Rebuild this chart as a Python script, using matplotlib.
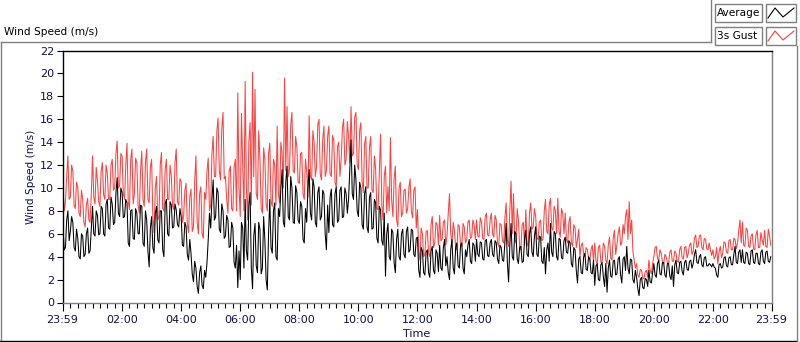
import numpy as np
import matplotlib.pyplot as plt
from matplotlib.patches import Rectangle
from matplotlib.lines import Line2D

# values, one row per hour (00:00 ... 23:55)
# *_a: samples at hh:m0 / hh:m5, *_b: samples 2.5 minutes later
gust_a = [
    10.0, 8.8, 12.8, 9.2, 11.5, 8.2, 10.1, 7.5, 9.0, 6.6, 9.1, 7.0,      # 00
    12.8, 8.6, 10.6, 8.4, 12.2, 9.0, 11.3, 9.0, 12.5, 10.0, 14.1, 10.2,  # 01
    12.8, 9.0, 13.9, 8.1, 13.4, 9.5, 12.2, 7.8, 13.2, 8.4, 13.4, 8.7,    # 02
    12.5, 6.1, 11.0, 7.5, 13.1, 8.0, 12.5, 9.0, 11.0, 8.1, 13.4, 8.5,    # 03
    10.6, 7.5, 10.4, 6.1, 9.9, 6.6, 12.8, 6.0, 10.1, 5.6, 9.0, 12.6,     # 04
    8.5, 14.5, 11.0, 16.1, 10.7, 16.6, 11.0, 7.8, 11.9, 8.0, 12.5, 18.3, # 05
    7.5, 12.0, 19.3, 7.2, 15.7, 20.1, 18.6, 9.0, 12.5, 7.8, 12.5, 8.0,   # 06
    13.9, 8.4, 12.0, 15.4, 8.7, 13.0, 19.6, 17.1, 11.6, 16.6, 11.3, 13.6, # 07
    10.4, 13.1, 9.0, 11.5, 16.3, 10.7, 14.0, 11.9, 16.0, 10.7, 15.4, 11.5, # 08
    15.4, 11.0, 14.2, 10.1, 14.0, 12.5, 16.0, 12.5, 14.5, 17.1, 13.0, 16.6, # 09
    11.6, 15.7, 9.6, 14.5, 10.0, 14.5, 9.6, 11.6, 8.1, 14.7, 7.2, 11.9,  # 10
    10.1, 14.4, 7.5, 11.9, 6.6, 10.5, 7.8, 9.9, 8.2, 10.8, 7.4, 10.1,    # 11
    8.1, 3.7, 6.0, 4.2, 6.3, 4.0, 7.5, 5.2, 6.8, 7.6, 5.5, 7.2,          # 12
    5.8, 9.5, 5.2, 6.3, 4.6, 6.6, 4.9, 6.6, 5.5, 7.2, 5.7, 6.8,          # 13
    7.2, 5.7, 7.0, 5.5, 7.8, 5.8, 7.8, 5.7, 7.2, 4.9, 6.8, 5.2,          # 14
    8.7, 4.9, 10.6, 9.5, 5.2, 7.2, 4.6, 7.0, 8.1, 4.9, 8.7, 6.6,         # 15
    7.5, 5.5, 7.2, 5.5, 9.0, 6.0, 9.1, 6.3, 8.0, 9.1, 5.7, 7.8,          # 16
    7.8, 5.2, 7.5, 4.9, 6.5, 5.5, 4.0, 5.2, 4.0, 4.6, 3.7, 5.0,          # 17
    5.2, 3.4, 5.0, 3.6, 4.9, 3.4, 5.7, 3.7, 6.3, 5.0, 6.6, 5.2,          # 18
    6.0, 8.1, 8.8, 7.2, 3.7, 3.4, 2.2, 2.8, 2.1, 2.8, 3.7, 2.5,          # 19
    4.0, 4.9, 3.7, 4.3, 3.4, 4.0, 3.4, 4.6, 3.6, 4.3, 3.5, 4.9,          # 20
    3.8, 4.9, 4.3, 5.2, 4.5, 5.9, 4.9, 5.9, 4.6, 5.5, 4.6, 4.6,          # 21
    4.6, 4.0, 3.4, 4.9, 4.3, 5.2, 4.3, 5.5, 4.6, 5.5, 5.2, 7.2,          # 22
    7.0, 4.9, 6.3, 4.8, 6.0, 4.6, 6.3, 4.8, 5.5, 6.3, 4.8, 5.8,          # 23
]
gust_b = [
    8.0, 11.0, 9.0, 12.0, 8.5, 10.5, 7.8, 9.8, 7.0, 8.5, 7.2, 9.5,       # 00
    9.2, 11.8, 8.8, 11.5, 9.4, 12.0, 9.0, 12.0, 9.8, 13.0, 10.0, 13.0,   # 01
    9.5, 12.0, 8.8, 12.5, 8.6, 12.6, 8.5, 11.5, 9.0, 12.2, 9.0, 11.8,    # 02
    7.5, 10.0, 7.2, 12.0, 8.2, 11.6, 9.0, 12.0, 8.4, 12.2, 8.8, 10.8,    # 03
    7.0, 9.8, 6.8, 9.2, 6.2, 10.5, 7.0, 9.5, 6.0, 9.6, 11.5, 8.0,        # 04
    13.0, 11.0, 15.0, 11.5, 15.2, 10.8, 9.0, 11.5, 8.2, 11.8, 8.0, 10.0, # 05
    16.5, 8.0, 10.0, 14.0, 8.5, 11.0, 9.5, 15.0, 8.2, 13.5, 8.6, 13.0,   # 06
    8.8, 12.5, 8.5, 9.5, 14.0, 10.0, 11.5, 11.0, 15.5, 11.5, 14.5, 10.5, # 07
    13.0, 9.5, 12.5, 9.2, 11.0, 15.0, 11.0, 15.5, 11.2, 14.2, 11.0, 14.5, # 08
    11.2, 14.6, 10.5, 13.6, 11.0, 15.2, 12.0, 15.8, 12.2, 12.8, 16.2, 12.0, # 09
    15.0, 10.5, 13.8, 10.0, 13.5, 9.8, 12.8, 8.2, 11.5, 8.5, 11.0, 7.8,  # 10
    8.0, 9.0, 10.8, 7.2, 10.0, 7.5, 9.8, 7.8, 10.0, 8.0, 9.8, 6.5,       # 11
    4.5, 6.5, 4.0, 6.2, 4.3, 6.8, 4.8, 7.0, 5.0, 5.4, 7.0, 5.0,          # 12
    7.8, 6.0, 7.0, 4.8, 6.8, 5.0, 6.9, 5.2, 7.0, 5.6, 7.2, 5.5,          # 13
    5.8, 7.4, 5.6, 7.5, 5.9, 7.2, 6.0, 7.6, 5.2, 6.9, 5.4, 7.4,          # 14
    5.5, 8.0, 6.0, 5.5, 8.2, 4.8, 6.8, 5.0, 5.2, 7.8, 6.4, 8.2,          # 15
    5.6, 7.0, 5.4, 8.0, 6.2, 8.5, 6.5, 8.4, 6.0, 6.2, 8.2, 6.0,          # 16
    5.5, 7.0, 5.2, 6.8, 4.8, 6.4, 5.0, 4.2, 4.8, 3.8, 4.6, 3.6,          # 17
    3.6, 4.8, 3.5, 5.2, 3.7, 5.0, 3.9, 5.6, 4.2, 6.0, 5.0, 6.8,          # 18
    7.5, 5.5, 6.0, 4.5, 3.0, 2.4, 2.9, 2.1, 2.7, 2.2, 2.8, 3.4,          # 19
    4.8, 3.8, 4.6, 3.5, 4.2, 3.5, 4.4, 3.6, 4.5, 3.6, 4.6, 3.9,          # 20
    4.8, 3.9, 5.0, 4.2, 5.6, 4.8, 5.8, 4.8, 5.6, 4.7, 5.2, 4.1,          # 21
    3.8, 4.8, 4.4, 3.9, 5.3, 4.4, 5.4, 4.6, 5.6, 4.7, 6.3, 5.2,          # 22
    5.0, 6.5, 4.9, 5.8, 4.7, 5.9, 4.8, 6.1, 5.0, 4.9, 6.4, 5.0,          # 23
]
avg_a = [
    6.5, 4.8, 8.0, 6.2, 7.0, 4.5, 5.6, 3.8, 5.8, 4.2, 6.5, 4.5,          # 00
    8.4, 5.8, 7.6, 6.0, 8.2, 5.8, 9.0, 6.4, 8.6, 7.0, 10.9, 7.5,         # 01
    9.6, 7.5, 8.7, 4.9, 8.1, 5.5, 7.8, 6.0, 8.4, 4.9, 7.2, 3.1,          # 02
    7.5, 4.3, 8.4, 5.2, 8.0, 4.0, 9.0, 5.8, 8.5, 6.6, 8.1, 6.6,          # 03
    7.5, 4.9, 6.6, 3.7, 4.3, 1.8, 3.0, 0.8, 3.2, 1.2, 2.2, 5.5,          # 04
    6.5, 10.7, 7.5, 9.6, 6.1, 8.0, 5.8, 7.2, 4.9, 6.5, 3.0, 1.3,         # 05
    2.0, 6.5, 9.0, 3.7, 9.6, 1.2, 6.9, 2.6, 6.4, 3.0, 5.5, 1.1,          # 06
    9.0, 4.3, 8.7, 3.7, 7.5, 11.6, 6.6, 11.9, 7.2, 10.0, 6.9, 9.6,       # 07
    6.9, 8.4, 5.2, 7.0, 11.6, 7.2, 10.1, 6.6, 10.1, 7.5, 9.5, 4.6,       # 08
    6.1, 9.9, 6.6, 10.1, 7.2, 10.1, 7.5, 9.5, 9.0, 14.2, 9.0, 10.7,      # 09
    7.5, 10.0, 6.4, 10.1, 6.1, 9.6, 6.5, 8.7, 5.2, 8.1, 5.0, 2.3,        # 10
    6.9, 3.7, 6.1, 2.6, 6.4, 3.7, 6.4, 3.9, 6.6, 4.6, 6.3, 4.0,          # 11
    5.7, 2.2, 4.5, 2.4, 4.6, 2.2, 4.9, 2.5, 4.3, 5.0, 2.8, 5.5,          # 12
    4.0, 2.0, 5.5, 2.5, 5.2, 3.0, 5.2, 2.5, 4.0, 5.5, 3.4, 5.0,          # 13
    5.5, 4.0, 5.2, 3.7, 5.5, 4.0, 5.5, 4.0, 5.2, 3.4, 4.8, 3.6,          # 14
    6.9, 1.8, 6.9, 3.7, 6.0, 3.4, 4.9, 3.6, 6.3, 4.0, 6.6, 4.0,          # 15
    6.6, 4.0, 5.7, 3.4, 2.5, 5.2, 6.9, 4.0, 6.0, 3.7, 5.5, 3.8,          # 16
    5.7, 4.3, 5.2, 3.1, 4.6, 1.7, 4.0, 2.5, 4.3, 2.8, 3.8, 2.5,          # 17
    1.5, 3.4, 1.9, 3.5, 1.4, 0.9, 3.7, 2.2, 3.7, 2.5, 4.0, 1.7,          # 18
    4.0, 4.9, 2.5, 3.7, 1.7, 2.2, 0.6, 2.2, 1.2, 2.0, 2.8, 1.7,          # 19
    3.4, 2.2, 3.7, 2.4, 3.5, 2.2, 3.4, 2.0, 1.4, 3.7, 2.5, 3.6,          # 20
    2.4, 3.7, 2.8, 3.7, 3.4, 4.6, 3.4, 4.2, 3.1, 4.0, 3.2, 3.3,          # 21
    3.4, 3.0, 2.2, 3.4, 3.1, 4.0, 3.1, 4.0, 3.3, 4.9, 3.4, 4.6,          # 22
    4.6, 3.4, 4.3, 3.3, 4.6, 3.4, 4.3, 3.3, 4.6, 3.4, 4.5, 3.5,          # 23
]
avg_b = [
    4.6, 7.2, 5.4, 7.5, 4.8, 6.4, 4.0, 6.0, 4.0, 6.0, 4.3, 6.4,          # 00
    6.0, 8.0, 5.9, 8.4, 6.0, 8.6, 6.5, 9.2, 6.8, 9.5, 7.8, 10.0,         # 01
    7.4, 9.0, 5.2, 8.0, 5.6, 8.2, 6.0, 8.5, 5.2, 8.0, 4.5, 6.5,          # 02
    4.8, 7.8, 5.5, 8.0, 4.6, 8.6, 6.0, 8.8, 6.5, 8.6, 6.8, 8.2,          # 03
    5.0, 7.0, 4.2, 5.5, 2.5, 3.6, 1.4, 2.6, 1.5, 2.8, 3.5, 7.8,          # 04
    9.0, 7.2, 10.0, 6.4, 8.6, 5.6, 7.6, 4.8, 7.0, 3.5, 5.0, 4.5,         # 05
    7.0, 3.0, 4.5, 8.5, 3.0, 5.8, 3.2, 7.0, 2.5, 7.5, 2.0, 6.0,          # 06
    4.8, 8.0, 4.0, 8.2, 10.0, 7.0, 10.5, 7.5, 11.0, 7.0, 10.2, 7.2,      # 07
    8.8, 5.5, 8.2, 10.0, 7.8, 10.8, 7.0, 9.6, 7.2, 9.8, 6.0, 8.5,        # 08
    9.2, 6.8, 9.5, 7.0, 9.8, 7.4, 10.0, 7.8, 11.5, 9.5, 12.0, 8.0,       # 09
    10.5, 6.8, 9.5, 6.6, 9.2, 6.4, 9.0, 5.6, 8.4, 5.4, 7.8, 6.0,         # 10
    4.0, 6.4, 3.5, 5.5, 4.0, 6.0, 4.2, 6.2, 4.4, 6.4, 4.2, 5.6,          # 11
    2.8, 4.8, 2.6, 4.4, 2.6, 4.5, 2.8, 4.6, 2.7, 3.0, 4.8, 3.2,          # 12
    2.6, 4.6, 3.0, 4.8, 3.2, 5.0, 3.0, 4.6, 5.0, 3.6, 5.2, 3.6,          # 13
    4.2, 5.3, 3.8, 5.4, 4.1, 5.2, 4.2, 5.4, 3.8, 5.0, 3.7, 5.2,          # 14
    3.5, 5.0, 4.0, 6.2, 3.8, 4.8, 3.5, 5.6, 4.2, 6.0, 4.4, 5.8,          # 15
    4.2, 5.8, 3.6, 4.8, 4.6, 3.6, 4.4, 6.2, 4.0, 5.6, 3.9, 5.4,          # 16
    4.4, 5.4, 3.4, 4.8, 2.8, 3.8, 2.6, 4.0, 2.9, 4.0, 2.6, 3.7,          # 17
    3.2, 2.0, 3.3, 2.2, 3.4, 3.0, 2.3, 3.6, 2.4, 3.8, 2.4, 3.8,          # 18
    2.8, 3.0, 3.8, 2.0, 2.8, 1.2, 2.0, 1.3, 2.1, 1.4, 1.8, 2.6,          # 19
    2.4, 3.4, 2.5, 3.5, 2.4, 3.4, 2.3, 3.2, 3.3, 2.6, 3.5, 2.7,          # 20
    3.5, 2.9, 3.6, 3.0, 4.2, 3.5, 4.0, 3.3, 3.9, 3.2, 3.4, 3.1,          # 21
    3.1, 2.4, 3.3, 3.0, 3.9, 3.2, 3.9, 3.3, 4.2, 3.5, 4.4, 3.5,          # 22
    3.5, 4.4, 3.4, 4.5, 3.5, 4.3, 3.4, 4.4, 3.6, 4.4, 3.6, 4.0,          # 23
]

tick_pos = [-1, 120, 240, 360, 480, 600, 720, 840, 960, 1080, 1200, 1320, 1439]
tick_labels = ['23:59', '02:00', '04:00', '06:00', '08:00', '10:00', '12:00',
               '14:00', '16:00', '18:00', '20:00', '22:00', '23:59']

# merge the two sample sets into one 2.5-minute series
gust = np.column_stack([gust_a, gust_b]).ravel()
average = np.column_stack([avg_a, avg_b]).ravel()
minutes = np.arange(len(gust)) * 2.5

plt.rcParams['font.family'] = ['DejaVu Sans']
fs = 7.6
text_col = '#10104a'
red = '#ff4040'
grey = '#808080'

fig = plt.figure(figsize=(8, 3.42), dpi=100)

# panel decorations in pixel coordinates
deco = fig.add_axes([0, 0, 1, 1], zorder=0)
deco.set_xlim(0, 800)
deco.set_ylim(342, 0)
deco.axis('off')
deco.add_line(Line2D([0.5, 711], [42, 42], color=grey, lw=1))
deco.add_line(Line2D([711, 711], [0, 42], color=grey, lw=1))
deco.add_line(Line2D([0.5, 0.5], [42, 341], color=grey, lw=1))
deco.add_line(Line2D([0, 797], [340.5, 340.5], color='black', lw=1))
deco.add_line(Line2D([797, 797], [46, 341], color=grey, lw=1))
deco.text(4, 32, 'Wind Speed (m/s)', fontsize=fs, color='black', va='center', ha='left')

# legend boxes
for y0, label, col in [(4, 'Average', 'black'), (27, '3s Gust', red)]:
    deco.add_patch(Rectangle((715, y0), 47, 17.5, fc='white', ec=grey, lw=1))
    deco.text(717, y0 + 9, label, fontsize=fs, color='black', va='center', ha='left')
    deco.add_patch(Rectangle((766, y0), 30, 17.5, fc='white', ec=grey, lw=1))
    deco.add_line(Line2D([768, 775, 783, 794], [y0 + 14, y0 + 4, y0 + 13, y0 + 4],
                         color=col, lw=0.8))

ax = fig.add_axes([62.5 / 800, 1 - 302.5 / 342, 709 / 800, 252 / 342], zorder=1)
ax.plot(minutes, gust, color=red, lw=0.75, label='3s Gust')
ax.plot(minutes, average, color='black', lw=0.75, label='Average')

ax.set_xlim(-1, 1439)
ax.set_ylim(0, 22)
ax.set_yticks(np.arange(0, 23, 2))
ax.set_xticks(tick_pos)
ax.set_xticklabels(tick_labels)
ax.set_xticks(np.arange(15, 1439, 15), minor=True)
ax.tick_params(axis='both', labelsize=fs + 0.4, labelcolor=text_col, color='black', width=0.8)
ax.tick_params(axis='y', length=4, pad=2)
ax.tick_params(axis='x', which='major', length=6, pad=3)
ax.tick_params(axis='x', which='minor', length=3.5, width=0.8)
ax.spines['top'].set_color('black')
ax.spines['left'].set_color('black')
ax.spines['bottom'].set_color(grey)
ax.spines['right'].set_color(grey)
for s in ax.spines.values():
    s.set_linewidth(1)
ax.set_ylabel('Wind Speed (m/s)', fontsize=fs, color=text_col, labelpad=3)
ax.set_xlabel('Time', fontsize=fs + 0.4, color=text_col, labelpad=3)

fig.savefig('out.png', dpi=100)
